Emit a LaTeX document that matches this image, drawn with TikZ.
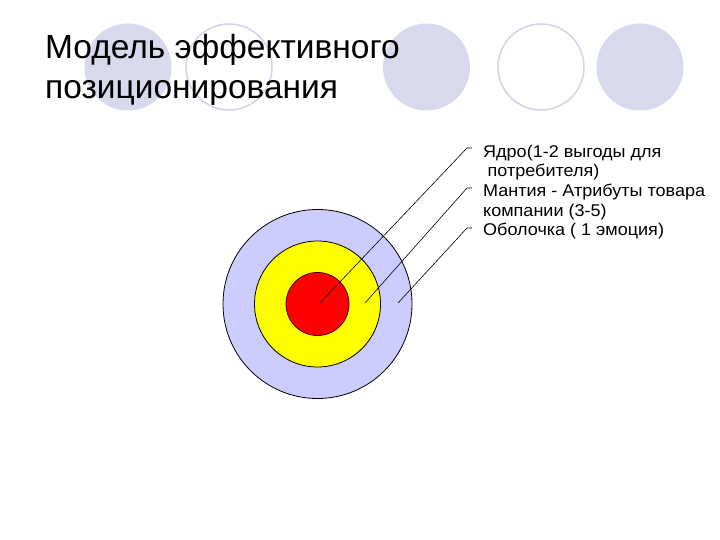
\documentclass[tikz,border=0pt]{standalone}
\usepackage{fontspec}
\setmainfont{Liberation Sans}
\newfontfamily\lblfont[FakeStretch=1.06]{Liberation Sans}
\definecolor{bgdisk}{RGB}{217,217,238}
\definecolor{bgedge}{RGB}{212,212,230}
\definecolor{shellc}{RGB}{204,204,255}
\definecolor{mantlec}{RGB}{255,255,0}
\definecolor{corec}{RGB}{255,0,0}
\begin{document}
\begin{tikzpicture}[x=1pt,y=-1pt,
  bgdot/.style={circle, minimum size=87pt, inner sep=0pt, fill=bgdisk},
  ringdot/.style={circle, minimum size=86pt, inner sep=0pt, draw=bgedge, line width=1.6pt},
  layer/.style={circle, inner sep=0pt, draw=black, line width=0.8pt},
  leader/.style={draw=black, line width=0.6pt},
  titletext/.style={anchor=base west, inner sep=0pt, font=\fontsize{33.5}{40}\selectfont},
  lbl/.style={anchor=base west, inner sep=0pt, font=\lblfont\fontsize{17}{19.5}\selectfont}
]
\useasboundingbox (0,0) rectangle (720,540);
% background decoration
\node[bgdot] (d1) at (128,67) {};
\node[ringdot] (r1) at (229,67) {};
\node[bgdot] (d2) at (426.5,67) {};
\node[ringdot] (r2) at (541,67) {};
\node[bgdot] (d3) at (640,67) {};
% title
\node[titletext] (title1) at (45,59) {Модель эффективного};
\node[titletext] (title2) at (45,99) {позиционирования};
% target
\node[layer, fill=shellc, minimum size=189pt] (shell) at (317.5,304) {};
\node[layer, fill=mantlec, minimum size=126pt] (mantle) at (317.5,304) {};
\node[layer, fill=corec, draw=black!70!red, minimum size=63pt] (core) at (317.5,304) {};
% labels
\node[lbl] (l1a) at (483,157.5) {Ядро(1-2 выгоды для};
\node[lbl] (l1b) at (487.5,177) {потребителя)};
\node[lbl] (l2a) at (483,196.5) {Мантия - Атрибуты товара};
\node[lbl] (l2b) at (483,216) {компании (3-5)};
\node[lbl] (l3) at (483,235.5) {Оболочка ( 1 эмоция)};
% leader lines
\coordinate (p1) at (320,303);
\coordinate (p2) at (365,303);
\coordinate (p3) at (398,303);
\coordinate (k1) at (467,148);
\coordinate (k2) at (467,188);
\coordinate (k3) at (467,228);
\coordinate (e1) at (472,148);
\coordinate (e2) at (472,188);
\coordinate (e3) at (472,228);
\draw[leader] (p1) -- (k1) -- (e1);
\draw[leader] (p2) -- (k2) -- (e2);
\draw[leader] (p3) -- (k3) -- (e3);
\end{tikzpicture}
\end{document}
